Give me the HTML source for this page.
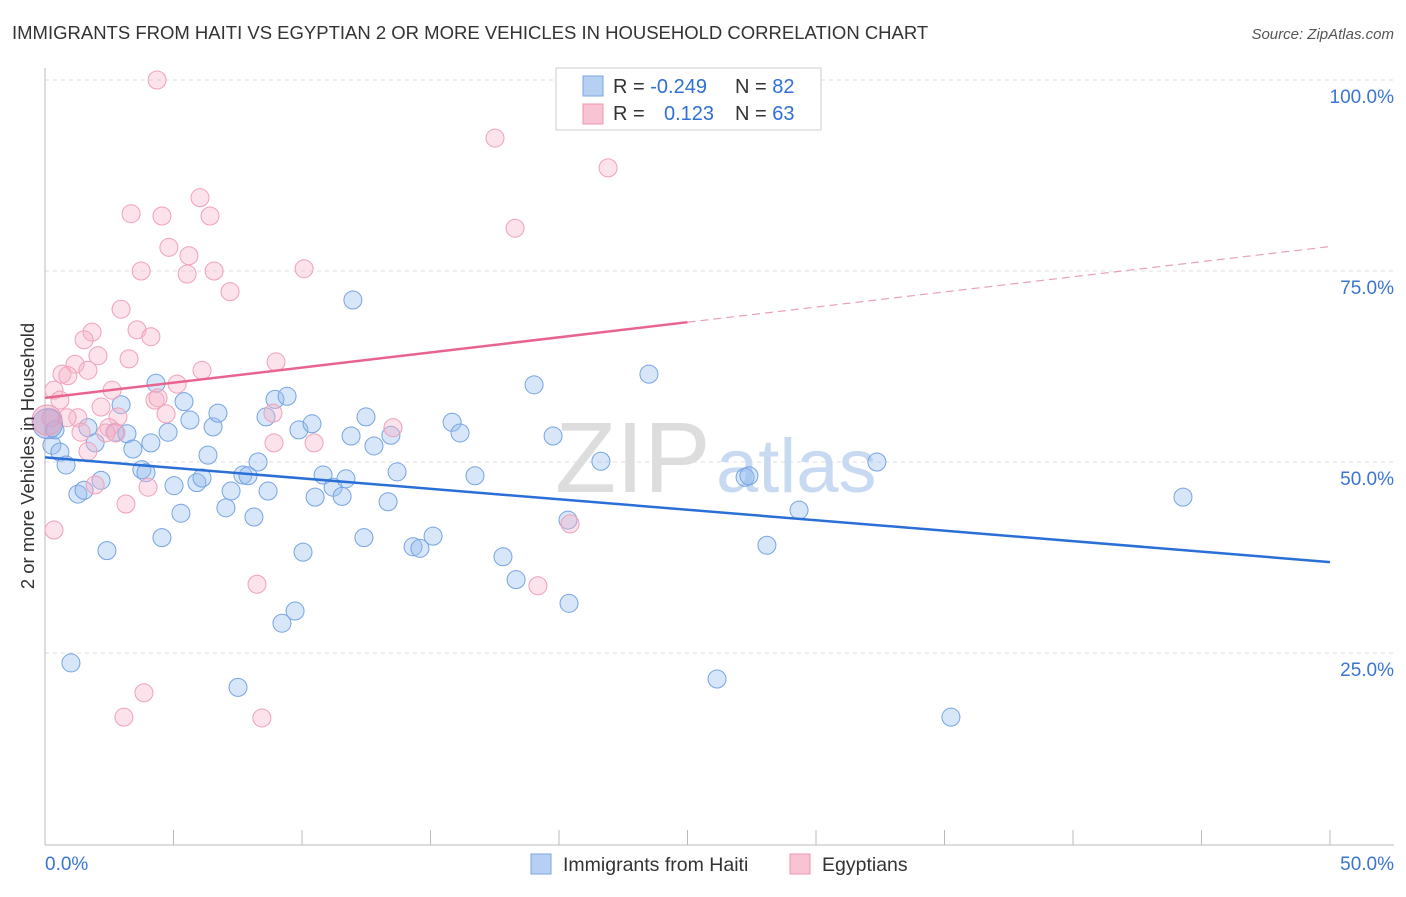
<!DOCTYPE html>
<html><head><meta charset="utf-8"><style>
body{margin:0;background:#fff;font-family:"Liberation Sans",sans-serif;}
svg text{font-family:"Liberation Sans",sans-serif;}
</style></head><body>
<svg id="chart" width="1406" height="892" xmlns="http://www.w3.org/2000/svg">
<text x="12" y="39" font-size="18.5" fill="#333">IMMIGRANTS FROM HAITI VS EGYPTIAN 2 OR MORE VEHICLES IN HOUSEHOLD CORRELATION CHART</text>
<text x="1394" y="39" font-size="15" fill="#555" font-style="italic" text-anchor="end">Source: ZipAtlas.com</text>
<g id="grid"></g>
<text x="555" y="492" font-size="100" fill="#ddd" font-family="Liberation Serif">ZIP</text>
<text x="716" y="492" font-size="76" fill="#c8daf2">atlas</text>
<line x1="45" y1="68" x2="45" y2="845" stroke="#bbb"/>
<line x1="45" y1="845" x2="1394" y2="845" stroke="#bbb"/>
<g id="ticks"></g>
<g id="pts"></g>
<g id="trend"></g>
<text transform="translate(34,456) rotate(-90)" font-size="18.5" fill="#333" text-anchor="middle">2 or more Vehicles in Household</text>
<text x="45" y="870" font-size="19" fill="#3a75d0">0.0%</text>
<text x="1394" y="870" font-size="19" fill="#3a75d0" text-anchor="end">50.0%</text>
<g>
<rect x="556" y="68" width="265" height="62" fill="#fff" stroke="#ccc"/>
<rect x="583" y="76" width="20" height="20" fill="#b6d0f4" stroke="#7aa6e0"/>
<rect x="583" y="104" width="20" height="20" fill="#f8c3d3" stroke="#ef95b2"/>
<text x="613" y="93" font-size="20" fill="#333">R = <tspan fill="#2f6fd6">-0.249</tspan></text>
<text x="735" y="93" font-size="20" fill="#333">N = <tspan fill="#2f6fd6">82</tspan></text>
<text x="613" y="120" font-size="20" fill="#333">R = <tspan fill="#2f6fd6" x="664">0.123</tspan></text>
<text x="735" y="120" font-size="20" fill="#333">N = <tspan fill="#2f6fd6">63</tspan></text>
</g>
<g>
<rect x="531" y="854" width="20" height="20" fill="#b6d0f4" stroke="#7aa6e0"/>
<text x="563" y="871" font-size="19.5" fill="#333">Immigrants from Haiti</text>
<rect x="790" y="854" width="20" height="20" fill="#f8c3d3" stroke="#ef95b2"/>
<text x="822" y="871" font-size="19.5" fill="#333">Egyptians</text>
</g>
</svg>
<script>
const blueX=[0.27,0.39,0.58,0.82,1.01,1.28,1.52,1.67,1.95,2.18,2.41,2.72,2.96,3.19,3.42,3.77,3.93,4.12,4.32,4.55,4.79,5.02,5.29,5.41,5.64,5.91,6.11,6.34,6.54,6.73,7.04,7.24,7.51,7.70,7.90,8.13,8.29,8.60,8.68,8.95,9.22,9.42,9.73,9.88,10.04,10.39,10.51,10.82,11.21,11.56,11.71,11.98,11.91,12.41,12.49,12.80,13.46,13.35,13.70,14.32,14.59,15.10,15.84,16.15,16.73,17.82,18.33,19.03,19.77,20.35,20.39,21.63,23.50,26.15,27.24,27.39,28.09,29.34,32.37,35.25,44.28];
const blueY=[52.2,54.2,51.3,49.6,23.7,45.8,46.3,54.5,52.5,47.6,38.4,53.9,57.5,53.7,51.7,49.0,48.6,52.5,60.3,40.1,53.9,46.9,43.3,57.9,55.5,47.3,47.9,50.9,54.6,56.4,44.0,46.2,20.5,48.3,48.2,42.8,50.0,55.9,46.2,58.2,28.9,58.6,30.5,54.2,38.2,55.0,45.4,48.3,46.7,45.5,47.8,71.2,53.4,40.1,55.9,52.1,53.5,44.8,48.7,38.9,38.7,40.3,55.2,53.8,48.2,37.6,34.6,60.1,53.4,42.4,31.5,50.1,61.5,21.6,48.0,48.2,39.1,43.7,50.0,16.6,45.4];
const pinkX=[4.36,17.51,21.91,6.03,3.35,4.55,6.42,18.29,4.82,5.60,3.74,5.53,6.58,10.08,7.20,2.96,3.58,4.12,1.83,1.52,2.06,3.27,8.99,1.17,0.66,0.89,6.11,5.14,1.67,0.35,2.61,0.58,4.28,4.40,2.18,2.84,4.71,8.87,1.28,0.23,0.86,1.40,2.49,13.54,2.76,10.47,8.91,1.67,2.37,4.01,1.95,3.15,0.35,20.43,8.25,19.18,3.85,3.07,8.44];
const pinkY=[100.0,92.4,88.5,84.6,82.5,82.2,82.2,80.6,78.1,77.0,75.0,74.6,75.0,75.3,72.3,70.0,67.3,66.4,67.0,66.0,63.9,63.5,63.1,62.8,61.5,61.3,62.0,60.2,62.0,59.4,59.4,58.1,58.1,58.4,57.2,55.9,56.3,56.4,55.8,55.8,55.8,53.9,54.5,54.5,53.8,52.5,52.5,51.4,53.8,46.7,47.0,44.5,41.1,41.9,34.0,33.8,19.8,16.6,16.5];
const bigX=[0.1,0.08];
const bigY=[55.0,55.5];
const blueTrend=[50.6,36.9];
const pinkTrend=[58.4,68.3,78.2];
const yTicks=[100,75,50,25];
const yTickLabels=["100.0%","75.0%","50.0%","25.0%"];

const NS="http://www.w3.org/2000/svg";
const X=v=>45+v/50*1285;
const Y=v=>844-v/100*764;
function mk(tag,attrs,parent){const e=document.createElementNS(NS,tag);for(const k in attrs)e.setAttribute(k,attrs[k]);parent.appendChild(e);return e;}
const grid=document.getElementById('grid'),ticks=document.getElementById('ticks'),pts=document.getElementById('pts'),trend=document.getElementById('trend');
yTicks.forEach((t,i)=>{
  const l=mk('line',{x1:45,x2:1394,y1:Y(t),y2:Y(t),stroke:'#ddd','stroke-dasharray':'4,4'},grid);
  
  
  const tx=mk('text',{x:1394,y:Y(t)+23,'font-size':19,fill:'#3a75d0','text-anchor':'end'},ticks);
  tx.textContent=yTickLabels[i];
  
  
});
for(let i=0;i<=10;i++){
  const l=mk('line',{x1:X(i*5),x2:X(i*5),y1:830,y2:845,stroke:'#bbb'},ticks);
  
  
}
blueX.forEach((x,i)=>{
  const c=mk('circle',{cx:X(x),cy:Y(blueY[i]),r:9,fill:'rgba(150,188,238,0.38)',stroke:'#76a4e2','stroke-width':1},pts);
  
  
});
pinkX.forEach((x,i)=>{
  const c=mk('circle',{cx:X(x),cy:Y(pinkY[i]),r:9,fill:'rgba(246,178,200,0.38)',stroke:'#f0a0ba','stroke-width':1},pts);
  
  
});
bigX.forEach((x,i)=>{
  const c=mk('circle',{cx:X(x),cy:Y(bigY[i]),r:15,fill:i?'rgba(230,160,190,0.45)':'rgba(140,160,220,0.45)',stroke:i?'#ee9ab5':'#7aa0e0'},pts);
  
  
});
let l=mk('line',{x1:X(0),y1:Y(blueTrend[0]),x2:X(50),y2:Y(blueTrend[1]),stroke:'#2a6fd6','stroke-width':2.5},trend);


l=mk('line',{x1:X(0),y1:Y(pinkTrend[0]),x2:X(25),y2:Y(pinkTrend[1]),stroke:'#e8648f','stroke-width':2.5},trend);


l=mk('line',{x1:X(25),y1:Y(pinkTrend[1]),x2:X(50),y2:Y(pinkTrend[2]),stroke:'#e8a0b8','stroke-width':1.2,'stroke-dasharray':'8,5'},trend);


</script>
</body></html>
